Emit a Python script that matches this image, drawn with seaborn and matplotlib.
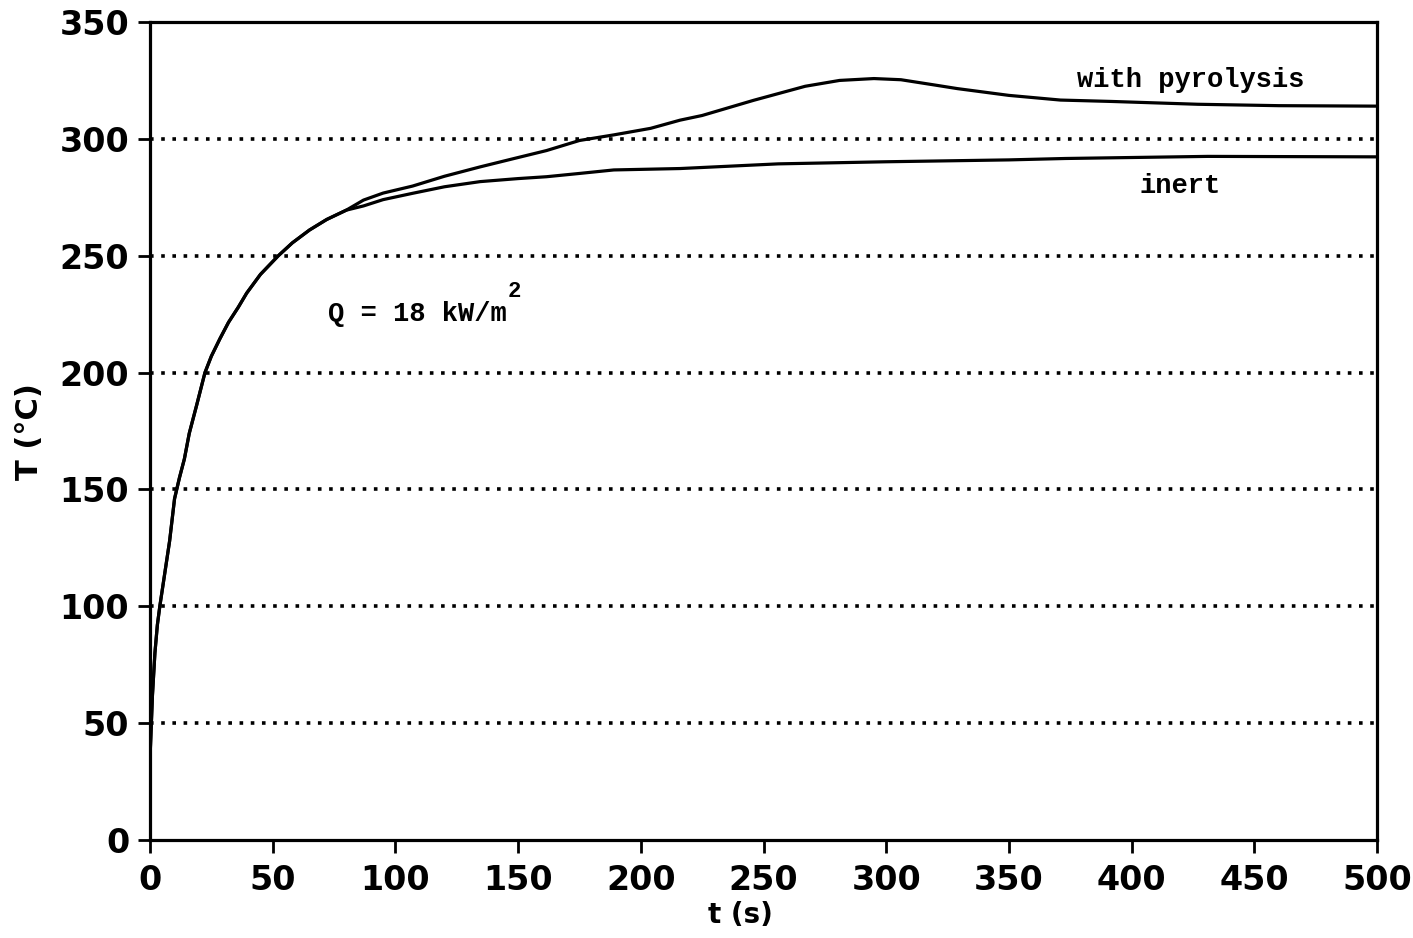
import matplotlib
matplotlib.use("Agg")
import matplotlib.pyplot as plt
import seaborn as sns
import pandas as pd

# ---- data ----
t_pyrolysis = [0, 1, 2, 3, 4, 6, 8, 10, 12, 14, 16, 19, 22.4, 25, 28.5, 32, 36, 39.4, 45,
               52.3, 58, 65, 72, 80, 87, 95, 107, 120, 134.5, 148, 161.6, 175, 189, 204,
               216, 225, 246, 267, 281, 295, 306, 320, 329, 350, 371, 392, 427, 460, 500]
T_pyrolysis = [35, 62, 80, 92, 100, 114, 128, 146, 155, 163, 174, 186, 200, 207, 214.5, 221.5,
               228, 234, 242, 250, 255.5, 261, 265.5, 269.5, 273.8, 276.8, 279.8, 284, 288,
               291.5, 295, 299.3, 301.7, 304.5, 308, 310, 316.5, 322.5, 325, 325.8, 325.3,
               323, 321.5, 318.6, 316.6, 316, 314.8, 314.2, 314]

t_inert = [0, 1, 2, 3, 4, 6, 8, 10, 12, 14, 16, 19, 22.4, 25, 28.5, 32, 36, 39.4, 45,
           52.3, 58, 65, 72, 80, 87, 95, 107, 120, 134.5, 150, 161.6, 175, 189, 216,
           256, 300, 350, 373, 431, 500]
T_inert = [35, 62, 80, 92, 100, 114, 128, 146, 155, 163, 174, 186, 200, 207, 214.5, 221.5,
           228, 234, 242, 250, 255.5, 261, 265.5, 269.5, 271.3, 274, 276.7, 279.5, 281.7,
           283, 283.8, 285.2, 286.7, 287.3, 289.3, 290.2, 291, 291.6, 292.5, 292.3]

x_ticks = [0, 50, 100, 150, 200, 250, 300, 350, 400, 450, 500]
y_ticks = [0, 50, 100, 150, 200, 250, 300, 350]
grid_levels = [50, 100, 150, 200, 250, 300]

df_p = pd.DataFrame({"t": t_pyrolysis, "T": T_pyrolysis})
df_i = pd.DataFrame({"t": t_inert, "T": T_inert})

sns.set_theme(style="white")
plt.rcParams["font.family"] = ["DejaVu Sans"]

fig = plt.figure(figsize=(14.13, 9.38), dpi=100)
ax = fig.add_axes([150 / 1413, 1 - 840 / 938, 1227 / 1413, 818 / 938])

for lvl in grid_levels:
    ax.axhline(lvl, color="black", lw=2.6, linestyle=(0, (1, 2.1)), zorder=1)

sns.lineplot(data=df_p, x="t", y="T", ax=ax, color="black", lw=2.3,
             estimator=None, sort=False, zorder=3)
sns.lineplot(data=df_i, x="t", y="T", ax=ax, color="black", lw=2.3,
             estimator=None, sort=False, zorder=3)

ax.set_xlim(0, 500)
ax.set_ylim(0, 350)
ax.set_xticks(x_ticks)
ax.set_yticks(y_ticks)
ax.tick_params(axis="both", direction="out", length=9, width=2, color="black",
               labelsize=24, labelcolor="black", pad=6)
ax.tick_params(axis="x", pad=8)
ax.tick_params(bottom=True, left=True)
for lab in ax.get_xticklabels() + ax.get_yticklabels():
    lab.set_fontweight("bold")

for s in ax.spines.values():
    s.set_color("black")
    s.set_linewidth(2.3)

ax.set_xlabel("t (s)", fontsize=20, fontweight="bold", color="black")
ax.set_ylabel("T (°C)", fontsize=22, fontweight="bold", color="black")
ax.xaxis.set_label_coords(0.481, -0.074)
ax.yaxis.set_label_coords(-0.086, 0.499)

mono = "Liberation Mono"
fs = 19.5
ax.text(424.2, 325, "with pyrolysis", family=mono, fontweight="bold", fontsize=fs,
        ha="center", va="center", color="black")
ax.text(419.7, 280, "inert", family=mono, fontweight="bold", fontsize=fs,
        ha="center", va="center", color="black")
ax.text(72.5, 225, "Q = 18 kW/m", family=mono, fontweight="bold", fontsize=fs,
        ha="left", va="center", color="black")
ax.annotate("2", xy=(72.5, 225), xytext=(11 * 0.6 * fs + 1, 16), textcoords="offset points",
            family=mono, fontweight="bold", fontsize=16, ha="left", va="center",
            color="black")

fig.savefig("out.png", dpi=100, facecolor="white")
